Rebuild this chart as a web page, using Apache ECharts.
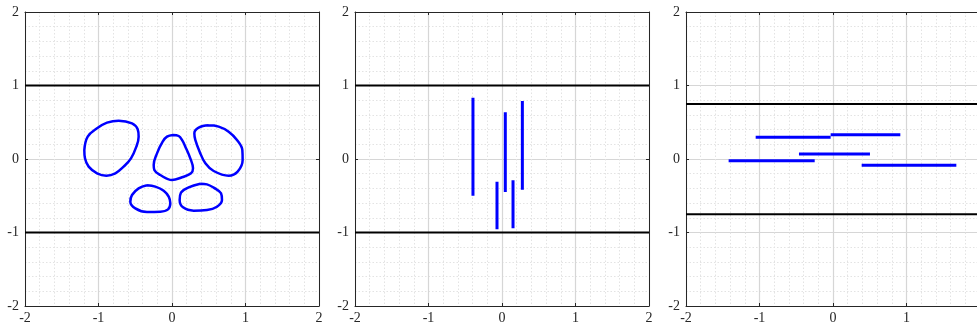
<!DOCTYPE html>
<html>
<head>
<meta charset="utf-8">
<script src="https://cdn.jsdelivr.net/npm/echarts@6/dist/echarts.min.js"></script>
<style>
html,body{margin:0;padding:0;background:#fff;}
#chart{width:977px;height:326px;}
</style>
</head>
<body>
<div id="chart"></div>
<script>
// Axis ticks shared by all three panels
const tickValues = [-2, -1, 0, 1, 2];

// Panel 1: five closed contours
const blobA = [[-1.193,0.122],[-1.147,0.304],[-1.020,0.417],[-0.884,0.494],[-0.726,0.522],[-0.544,0.485],[-0.467,0.404],[-0.454,0.304],[-0.485,0.168],[-0.558,0.009],[-0.658,-0.104],[-0.771,-0.195],[-0.893,-0.227],[-1.020,-0.195],[-1.134,-0.104],[-1.184,0.009],[-1.193,0.122]];
const blobB = [[0.014,0.327],[-0.068,0.304],[-0.127,0.236],[-0.204,0.077],[-0.249,-0.082],[-0.240,-0.150],[-0.159,-0.218],[0.000,-0.286],[0.136,-0.249],[0.259,-0.195],[0.286,-0.127],[0.249,0.009],[0.181,0.168],[0.136,0.259],[0.091,0.313],[0.014,0.327]];
const blobC = [[0.499,0.458],[0.363,0.426],[0.304,0.349],[0.317,0.259],[0.376,0.100],[0.454,-0.059],[0.567,-0.163],[0.771,-0.227],[0.893,-0.172],[0.961,-0.014],[0.957,0.122],[0.884,0.259],[0.771,0.372],[0.635,0.440],[0.499,0.458]];
const blobD = [[-0.340,-0.358],[-0.454,-0.399],[-0.544,-0.490],[-0.567,-0.580],[-0.499,-0.671],[-0.340,-0.721],[-0.159,-0.717],[-0.054,-0.685],[-0.023,-0.603],[-0.045,-0.512],[-0.113,-0.431],[-0.227,-0.376],[-0.340,-0.358]];
const blobE = [[0.385,-0.336],[0.227,-0.385],[0.122,-0.458],[0.104,-0.558],[0.150,-0.658],[0.295,-0.703],[0.476,-0.694],[0.612,-0.649],[0.680,-0.558],[0.667,-0.467],[0.567,-0.390],[0.476,-0.345],[0.385,-0.336]];
const blobs = [blobA, blobB, blobC, blobD, blobE];

// Panel 2: vertical segments [x, yTop, yBottom]
const vSegments = [[-0.395,0.834,-0.499],[-0.068,-0.308,-0.957],[0.045,0.635,-0.449],[0.150,-0.290,-0.943],[0.277,0.789,-0.417]];

// Panel 3: horizontal segments [y, xStart, xEnd]
const hSegments = [[0.295,-1.052,-0.032],[0.331,-0.032,0.916],[0.068,-0.463,0.503],[-0.023,-1.420,-0.249],[-0.086,0.390,1.678]];

// Horizontal reference lines per panel
const boundsLevels = [[1,-1],[1,-1],[0.75,-0.75]];

const gridLefts = [25, 355, 686];
const labelFont = '"Liberation Serif", "DejaVu Serif", serif';
const axisColor = '#262626';

const grids = [], xAxes = [], yAxes = [], series = [];

function makeAxis(dim, idx, pos, showLabels) {
  return {
    type: 'value', gridIndex: idx, position: pos,
    min: -2, max: 2, interval: 1,
    axisLine: { show: true, onZero: false, lineStyle: { color: axisColor, width: 1 } },
    axisTick: { show: true, inside: true, length: 3, lineStyle: { color: axisColor } },
    axisLabel: showLabels ? {
      show: true, color: axisColor, fontFamily: labelFont, fontSize: 14,
      margin: dim === 'x' ? 5 : 6,
      formatter: v => String(v).replace('\u2212', '-')
    } : { show: false },
    splitLine: { show: showLabels, lineStyle: { color: '#d6d6d6', width: 1.2 } },
    minorTick: { show: false, splitNumber: 5 },
    minorSplitLine: { show: showLabels, lineStyle: { color: '#e3e3e3', type: [1.5, 2], width: 1 } },
    z: 1
  };
}

for (let i = 0; i < 3; i++) {
  grids.push({ left: gridLefts[i], top: 12, width: 294, height: 294, containLabel: false, outerBoundsMode: 'none' });
  xAxes.push(makeAxis('x', i, 'bottom', true));
  xAxes.push(makeAxis('x', i, 'top', false));
  yAxes.push(makeAxis('y', i, 'left', true));
  yAxes.push(makeAxis('y', i, 'right', false));
  const xi = i * 2, yi = i * 2;
  boundsLevels[i].forEach(level => {
    series.push({
      type: 'line', xAxisIndex: xi, yAxisIndex: yi, symbol: 'none', silent: true,
      data: [[-2, level], [2, level]],
      lineStyle: { color: '#000', width: 2 }, z: 3
    });
  });
}

blobs.forEach(b => {
  series.push({
    type: 'line', xAxisIndex: 0, yAxisIndex: 0, symbol: 'none', smooth: 0.4,
    data: b, lineStyle: { color: '#0000ff', width: 2.5 }, z: 4
  });
});

vSegments.forEach(s => {
  series.push({
    type: 'line', xAxisIndex: 2, yAxisIndex: 2, symbol: 'none',
    data: [[s[0], s[1]], [s[0], s[2]]],
    lineStyle: { color: '#0000ff', width: 3 }, z: 4
  });
});

hSegments.forEach(s => {
  series.push({
    type: 'line', xAxisIndex: 4, yAxisIndex: 4, symbol: 'none',
    data: [[s[1], s[0]], [s[2], s[0]]],
    lineStyle: { color: '#0000ff', width: 3 }, z: 4
  });
});

const chart = echarts.init(document.getElementById('chart'), null, { renderer: 'canvas' });
chart.setOption({
  animation: false,
  backgroundColor: '#fff',
  grid: grids,
  xAxis: xAxes,
  yAxis: yAxes,
  series: series
});
</script>
</body>
</html>
